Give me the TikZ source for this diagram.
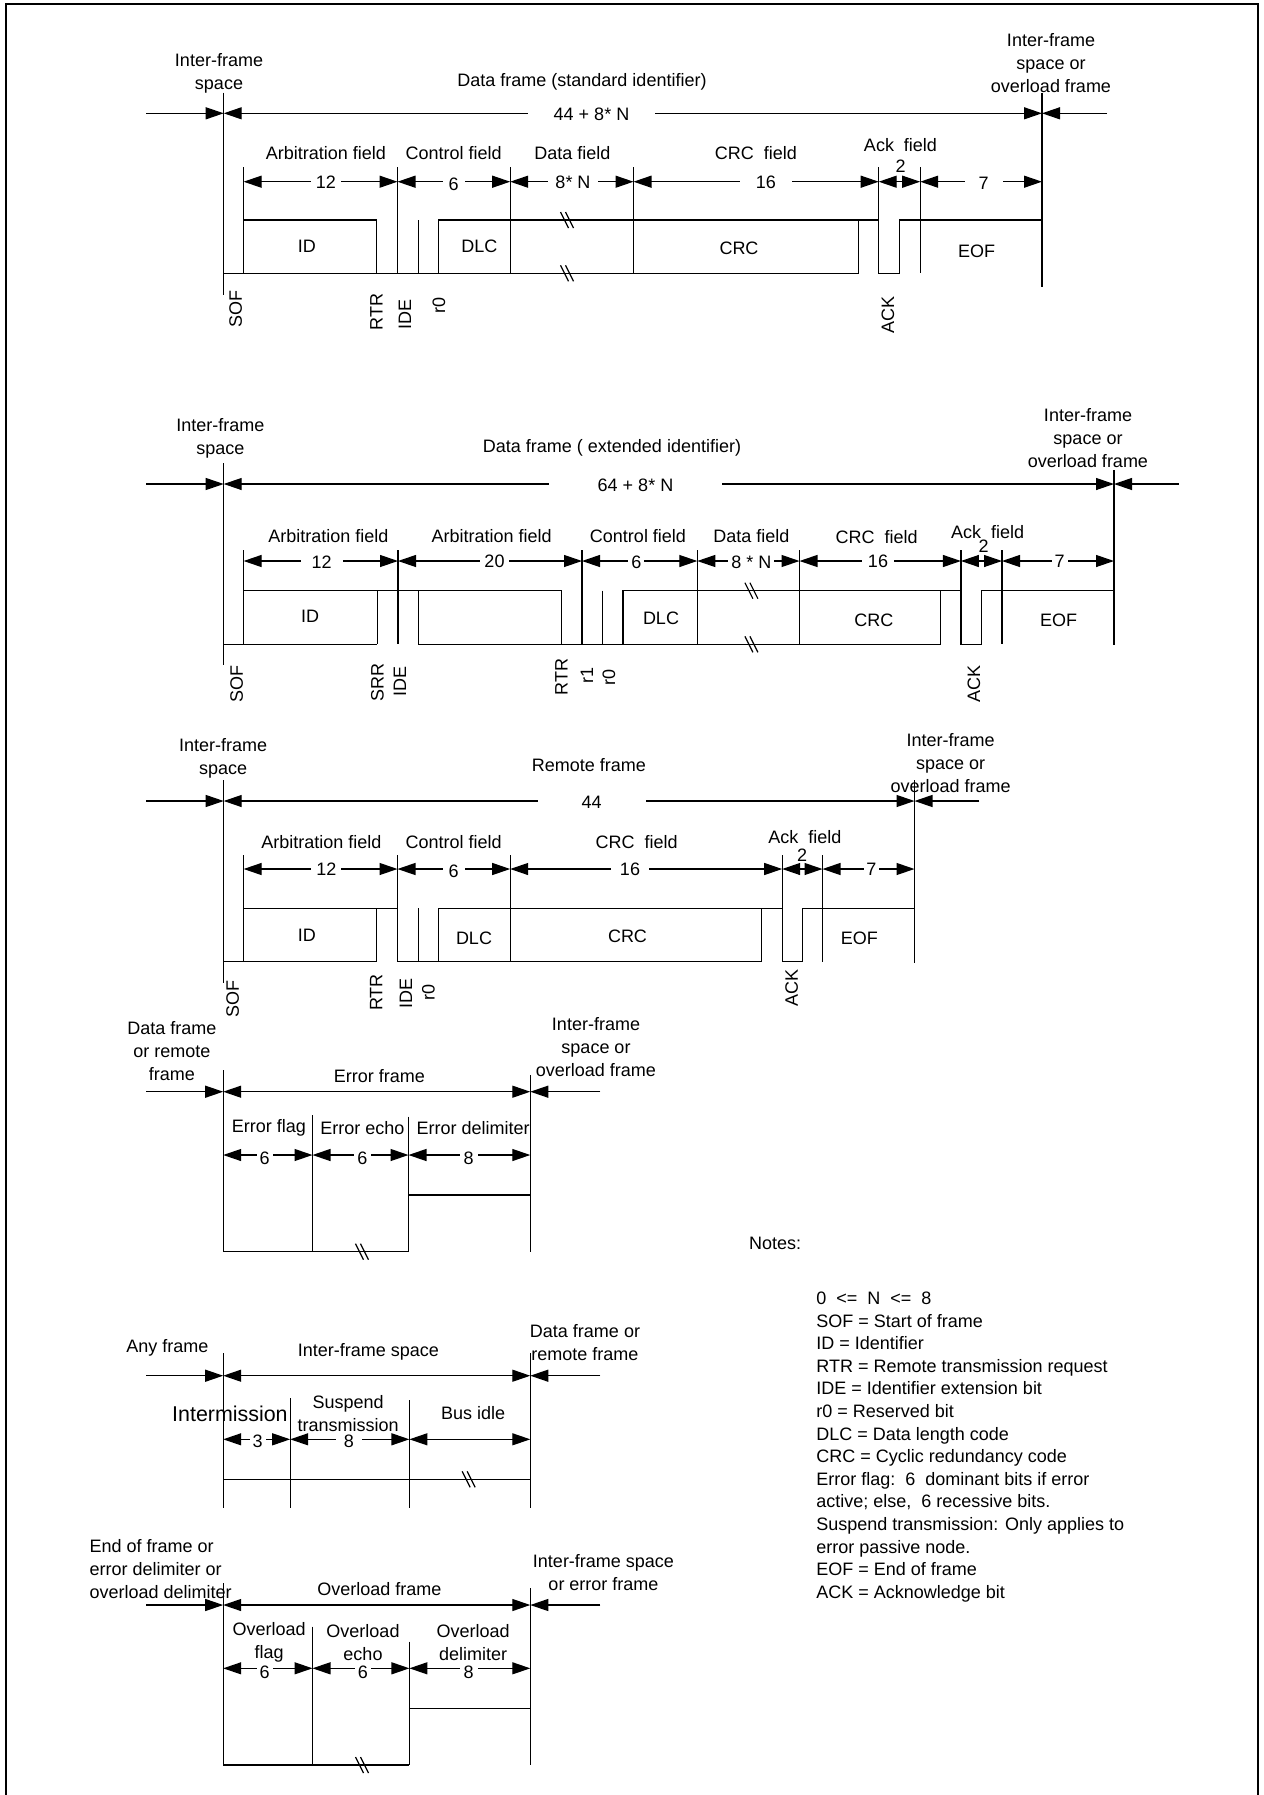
\documentclass[tikz,border=0pt]{standalone}
\usepackage{fontspec}
\setmainfont{Liberation Sans}
\usetikzlibrary{arrows.meta}
\begin{document}
\begin{tikzpicture}[x=0.5pt,y=-0.5pt,
  every node/.style={font=\fontsize{9}{11.5}\selectfont, inner sep=0pt},
  wire/.style={line width=0.6pt},
  span/.style={wire,{Triangle[length=9pt,width=6pt]}-{Triangle[length=9pt,width=6pt]}},
  into/.style={wire,-{Triangle[length=9pt,width=6pt]}},
  num/.style={fill=white, inner xsep=3pt, inner ysep=1pt},
  bit/.style={rotate=90},
  lab/.style={align=center},
  brk/.pic={\draw[wire] (-6.5,-8)--(1.5,8) (-1.5,-8)--(6.5,8);}
]
\useasboundingbox (0,0) rectangle (1264,1795);
% page frame
\draw[line width=1.1pt] (6,1795) -- (6,3.7) -- (1258,3.7) -- (1258,1795);

% ================= Data frame, standard identifier =================
\node[lab] (aIfsL) at (219,73.5) {Inter-frame\\space};
\node (aTitle) at (582,82) {Data frame (standard identifier)};
\node[lab] (aIfsR) at (1051,63) {Inter-frame\\space or\\overload frame};
\draw[wire] (223.7,92.7) -- (223.7,295);
\draw[wire] (1042,93) -- (1042,287);
\draw[into] (146,113.3) -- (223.7,113.3);
\draw[into] (1107,113.3) -- (1042,113.3);
\draw[span] (223.7,113.3) -- (1042,113.3);
\node[num,inner xsep=13pt] (aLen) at (591.5,114.5) {44 + 8* N};
% field names
\node (aArb) at (326,153) {Arbitration field};
\node (aCtl) at (453.7,153) {Control field};
\node (aDat) at (572.5,153) {Data field};
\node (aCrcF) at (756,153) {CRC\ \ field};
\node (aAckF) at (900.5,145) {Ack\ \ field};
% bit lengths
\draw[span] (243.6,181.7) -- (397.5,181.7);
\node[num,inner xsep=2.5pt] (aN12) at (326,182.5) {12};
\draw[span] (397.5,181.7) -- (510.2,181.7);
\node[num] (aN6) at (453.7,184) {6};
\draw[span] (510.2,181.7) -- (633.5,181.7);
\node[num,inner xsep=3.5pt] (aN8N) at (573,182.5) {8* N};
\draw[span] (633.5,181.7) -- (878.7,181.7);
\node[num,inner xsep=8pt] (aN16) at (765.8,182.5) {16};
\draw[span] (878.7,181.7) -- (920.2,181.7);
\node (aN2) at (900.5,166) {2};
\draw[span] (920.2,181.7) -- (1042,181.7);
\node[num,inner xsep=7pt] (aN7) at (983.5,183) {7};
% bit stream
\draw[wire] (223.7,273.3) -- (858.6,273.3);
\draw[wire] (243.6,167) -- (243.6,273.3);
\draw[wire] (243.6,220) -- (376.7,220) -- (376.7,273.3);
\draw[wire] (397.5,167) -- (397.5,273.3);
\draw[wire] (418.4,220) -- (418.4,273.3);
\draw[wire] (438.3,273.3) -- (438.3,220) -- (878.7,220);
\draw[wire] (510.2,167) -- (510.2,273.3);
\draw[wire] (633.5,167) -- (633.5,273.3);
\draw[wire] (858.6,220) -- (858.6,273.3);
\draw[wire] (878.7,167) -- (878.7,273.3) -- (899.7,273.3) -- (899.7,220) -- (1042,220);
\draw[wire] (920.2,167) -- (920.2,273.3);
\pic at (567,220) {brk};
\pic at (567,273.3) {brk};
\node (aID) at (306.8,246.7) {ID};
\node (aDLC) at (479.4,246.7) {DLC};
\node (aCRC) at (739,248) {CRC};
\node (aEOF) at (976.5,251.7) {EOF};
\node[bit] (aSOF) at (235.8,309) {SOF};
\node[bit] (aRTR) at (376.5,311.7) {RTR};
\node[bit] (aIDE) at (405,314) {IDE};
\node[bit] (aR0) at (439,305.5) {r0};
\node[bit] (aACK) at (887.8,315) {ACK};

% ================= Data frame, extended identifier =================
\node[lab] (bIfsL) at (220.4,438.3) {Inter-frame\\space};
\node (bTitle) at (612,448.3) {Data frame ( extended identifier)};
\node[lab] (bIfsR) at (1088,438.3) {Inter-frame\\space or\\overload frame};
\draw[wire] (223.7,463) -- (223.7,665);
\draw[wire] (1114,470) -- (1114,645);
\draw[into] (146,484) -- (223.7,484);
\draw[into] (1178.5,484) -- (1114,484);
\draw[span] (223.7,484) -- (1114,484);
\node[num,inner xsep=24.4pt] (bLen) at (635.5,485.5) {64 + 8* N};
% field names
\node (bArb1) at (328.5,535.7) {Arbitration field};
\node (bArb2) at (491.6,535.7) {Arbitration field};
\node (bCtl) at (638,535.7) {Control field};
\node (bDat) at (751.4,536) {Data field};
\node (bCrcF) at (876.7,536.7) {CRC\ \ field};
\node (bAckF) at (987.6,531.7) {Ack\ \ field};
% bit lengths
\draw[span] (243.6,561) -- (398,561);
\node[num,inner xsep=5.5pt] (bN12) at (321.6,562.7) {12};
\draw[span] (398,561) -- (582,561);
\node[num,inner xsep=2pt] (bN20) at (494.5,561.5) {20};
\draw[span] (582,561) -- (697.3,561);
\node[num,inner xsep=1.5pt] (bN6) at (636.4,562) {6};
\draw[span] (697.3,561) -- (799.5,561);
\node[num,inner xsep=1.5pt] (bN8N) at (751.4,562) {8 * N};
\draw[span] (799.5,561) -- (960.9,561);
\node[num,inner xsep=2.75pt] (bN16) at (878,561.5) {16};
\draw[span] (960.9,561) -- (1002,561);
\node (bN2) at (983.5,546) {2};
\draw[span] (1002,561) -- (1114,561);
\node[num,inner xsep=1.5pt] (bN7) at (1059.5,561.5) {7};
% bit stream
\draw[wire] (243.6,550) -- (243.6,644.3);
\draw[wire] (243.6,590.7) -- (561.7,590.7) -- (561.7,644.3);
\draw[wire] (377.3,590.7) -- (377.3,644.3);
\draw[wire] (223.7,644.3) -- (377.3,644.3);
\draw[wire] (398,550) -- (398,644.3);
\draw[wire] (418.3,590.7) -- (418.3,644.3);
\draw[wire] (418.3,644.3) -- (940.8,644.3);
\draw[wire] (582,550) -- (582,644.3);
\draw[wire] (602.7,590.7) -- (602.7,644.3);
\draw[wire] (623,644.3) -- (623,590.7) -- (960.9,590.7);
\draw[wire] (697.3,550) -- (697.3,644.3);
\draw[wire] (799.5,550) -- (799.5,644.3);
\draw[wire] (940.8,590.7) -- (940.8,644.3);
\draw[wire] (960.9,550) -- (960.9,644.3) -- (981.4,644.3) -- (981.4,590.7) -- (1114,590.7);
\draw[wire] (1002,550) -- (1002,644.3);
\pic at (751.4,590.7) {brk};
\pic at (751.4,644.3) {brk};
\node (bID) at (310,616.7) {ID};
\node (bDLC) at (661,618.3) {DLC};
\node (bCRC) at (873.8,620) {CRC};
\node (bEOF) at (1058.6,620) {EOF};
\node[bit] (bSOF) at (236.7,684) {SOF};
\node[bit] (bSRR) at (377.4,682.5) {SRR};
\node[bit] (bIDE) at (400,681) {IDE};
\node[bit] (bRTR) at (561.5,677) {RTR};
\node[bit] (bR1) at (587,675) {r1};
\node[bit] (bR0) at (609,677) {r0};
\node[bit] (bACK) at (974,684) {ACK};

% ================= Remote frame =================
\node[lab] (cIfsL) at (223.2,758.3) {Inter-frame\\space};
\node (cTitle) at (589,765) {Remote frame};
\node[lab] (cIfsR) at (950.6,762.7) {Inter-frame\\space or\\overload frame};
\draw[wire] (223.7,780) -- (223.7,983);
\draw[wire] (914.5,780) -- (914.5,963.3);
\draw[into] (146,801) -- (223.7,801);
\draw[into] (979.4,801) -- (914.5,801);
\draw[span] (223.7,801) -- (914.5,801);
\node[num,inner xsep=22pt] (cLen) at (591.7,802.5) {44};
% field names
\node (cArb) at (321.5,841.7) {Arbitration field};
\node (cCtl) at (453.7,841.7) {Control field};
\node (cCrcF) at (636.6,841.7) {CRC\ \ field};
\node (cAckF) at (805,836.7) {Ack\ \ field};
% bit lengths
\draw[span] (243.6,869) -- (397.5,869);
\node[num,inner xsep=2.5pt] (cN12) at (326.4,869.5) {12};
\draw[span] (397.5,869) -- (510.2,869);
\node[num] (cN6) at (453.7,871.5) {6};
\draw[span] (510.2,869) -- (782.2,869);
\node[num,inner xsep=4.5pt] (cN16) at (630,869.5) {16};
\draw[span] (782.2,869) -- (822.5,869);
\node (cN2) at (802,855) {2};
\draw[span] (822.5,869) -- (914.5,869);
\node[num,inner xsep=1.2pt] (cN7) at (871.3,869.5) {7};
% bit stream
\draw[wire] (243.6,855) -- (243.6,961.7);
\draw[wire] (243.6,908.3) -- (397.5,908.3);
\draw[wire] (376.7,908.3) -- (376.7,961.7);
\draw[wire] (223.7,961.7) -- (376.7,961.7);
\draw[wire] (397.5,855) -- (397.5,961.7);
\draw[wire] (397.5,961.7) -- (761.7,961.7);
\draw[wire] (418.4,908.3) -- (418.4,961.7);
\draw[wire] (438.3,961.7) -- (438.3,908.3) -- (782.2,908.3);
\draw[wire] (510.2,855) -- (510.2,961.7);
\draw[wire] (761.7,908.3) -- (761.7,961.7);
\draw[wire] (782.2,855) -- (782.2,961.7) -- (802.8,961.7) -- (802.8,908.3) -- (914.5,908.3);
\draw[wire] (822.5,855) -- (822.5,961.7);
\node (cID) at (306.8,935) {ID};
\node (cDLC) at (474,938.3) {DLC};
\node (cCRC) at (627.5,936.7) {CRC};
\node (cEOF) at (859.4,938.3) {EOF};
\node[bit] (cSOF) at (232.6,999) {SOF};
\node[bit] (cRTR) at (376.2,992.5) {RTR};
\node[bit] (cIDE) at (406,993.5) {IDE};
\node[bit] (cR0) at (428.4,992.5) {r0};
\node[bit] (cACK) at (791.7,987.5) {ACK};

% ================= Error frame =================
\node[lab] (dPrev) at (171.9,1051) {Data frame\\or remote\\frame};
\node (dTitle) at (379.4,1076) {Error frame};
\node[lab] (dNext) at (596,1046.7) {Inter-frame\\space or\\overload frame};
\draw[wire] (223.2,1070) -- (223.2,1251.7);
\draw[wire] (530.3,1075) -- (530.3,1251.7);
\draw[into] (146.4,1091.7) -- (223.2,1091.7);
\draw[into] (600.4,1091.7) -- (530.3,1091.7);
\draw[span] (223.2,1091.7) -- (530.3,1091.7);
\node (dFlag) at (269,1128.3) {Error flag};
\node (dEcho) at (362.5,1128.3) {Error echo};
\node (dDelim) at (473.2,1128.3) {Error delimiter};
\draw[span] (223.2,1155) -- (312.5,1155);
\node[num,inner xsep=1.5pt] (dN6a) at (264.7,1158) {6};
\draw[span] (312.5,1155) -- (408.5,1155);
\node[num,inner xsep=1.5pt] (dN6b) at (362.5,1158) {6};
\draw[span] (408.5,1155) -- (530.3,1155);
\node[num,inner xsep=2pt] (dN8) at (468.7,1158) {8};
\draw[wire] (312.5,1115) -- (312.5,1251.7);
\draw[wire] (408.5,1116.7) -- (408.5,1251.7);
\draw[wire] (408.5,1195) -- (530.3,1195);
\draw[wire] (223.2,1251.7) -- (408.5,1251.7);
\pic at (362,1251.7) {brk};

% ================= Inter-frame space =================
\node (eAny) at (167.4,1348.3) {Any frame};
\node (eTitle) at (368.3,1351.7) {Inter-frame space};
\node[lab] (eNext) at (585,1342.5) {Data frame or\\remote frame};
\draw[wire] (223.2,1353) -- (223.2,1508);
\draw[wire] (530.3,1353) -- (530.3,1508);
\draw[into] (146.4,1375.7) -- (223.2,1375.7);
\draw[into] (600.4,1375.7) -- (530.3,1375.7);
\draw[span] (223.2,1375.7) -- (530.3,1375.7);
\node[font=\fontsize{10.7}{12}\selectfont] (eInt) at (229.9,1414) {Intermission};
\node[lab] (eSusp) at (348.2,1413.7) {Suspend\\transmission};
\node (eIdle) at (473.2,1413.3) {Bus idle};
\draw[span] (223.2,1439.3) -- (290.2,1439.3);
\node[num,inner xsep=1.5pt] (eN3) at (257.6,1441) {3};
\draw[span] (290.2,1439.3) -- (409.4,1439.3);
\node[num,inner xsep=4pt] (eN8) at (349,1441) {8};
\draw[span] (409.4,1439.3) -- (530.3,1439.3);
\draw[wire] (290.2,1398) -- (290.2,1508);
\draw[wire] (409.4,1400) -- (409.4,1508);
\draw[wire] (223.2,1479.3) -- (530.3,1479.3);
\pic at (468.7,1479.3) {brk};

% ================= Overload frame =================
\node[align=left,anchor=west] (fPrev) at (89.3,1569) {End of frame or\\error delimiter or\\overload delimiter};
\node (fTitle) at (379.4,1589.3) {Overload frame};
\node[lab] (fNext) at (603.5,1573) {Inter-frame space\\or error frame};
\draw[wire] (223.2,1583) -- (223.2,1765);
\draw[wire] (530.3,1588) -- (530.3,1765);
\draw[into] (146.4,1605) -- (223.2,1605);
\draw[into] (600.4,1605) -- (530.3,1605);
\draw[span] (223.2,1605) -- (530.3,1605);
\node[lab] (fFlag) at (269.2,1642.5) {Overload\\flag};
\node[lab] (fEcho) at (363,1643) {Overload\\echo};
\node[lab] (fDelim) at (473.2,1643) {Overload\\delimiter};
\draw[span] (223.2,1668.3) -- (312.5,1668.3);
\node[num,inner xsep=1.5pt,inner ysep=0pt] (fN6a) at (264.7,1672) {6};
\draw[span] (312.5,1668.3) -- (409.4,1668.3);
\node[num,inner xsep=1.5pt,inner ysep=0pt] (fN6b) at (363,1672) {6};
\draw[span] (409.4,1668.3) -- (530.3,1668.3);
\node[num,inner xsep=2pt,inner ysep=0pt] (fN8) at (468.7,1672) {8};
\draw[wire] (312.5,1626.7) -- (312.5,1765);
\draw[wire] (409.4,1641.7) -- (409.4,1765);
\draw[wire] (409.4,1708.3) -- (530.3,1708.3);
\draw[wire] (223.2,1765) -- (409.4,1765);
\pic at (362,1765) {brk};

% ================= Notes =================
\node[anchor=west] (notes) at (748.6,1243) {Notes:};
\begin{scope}[every node/.append style={anchor=base west}]
\node (nt1)  at (816,1304.5) {0\ \ <=\ \ N\ \ <=\ \ 8};
\node (nt2)  at (816,1327.1) {SOF = Start of frame};
\node (nt3)  at (816,1349.7) {ID = Identifier};
\node (nt4)  at (816,1372.3) {RTR = Remote transmission request};
\node (nt5)  at (816,1394.9) {IDE = Identifier extension bit};
\node (nt6)  at (816,1417.5) {r0 = Reserved bit};
\node (nt7)  at (816,1440.1) {DLC = Data length code};
\node (nt8)  at (816,1462.7) {CRC = Cyclic redundancy code};
\node (nt9)  at (816,1485.3) {Error flag:\ \ 6\ \ dominant bits if error};
\node (nt10) at (816,1507.9) {active; else,\ \ 6 recessive bits.};
\node (nt11) at (816,1530.5) {Suspend transmission: Only applies to};
\node (nt12) at (816,1553.1) {error passive node.};
\node (nt13) at (816,1575.7) {EOF = End of frame};
\node (nt14) at (816,1598.3) {ACK = Acknowledge bit};
\end{scope}
\end{tikzpicture}
\end{document}
